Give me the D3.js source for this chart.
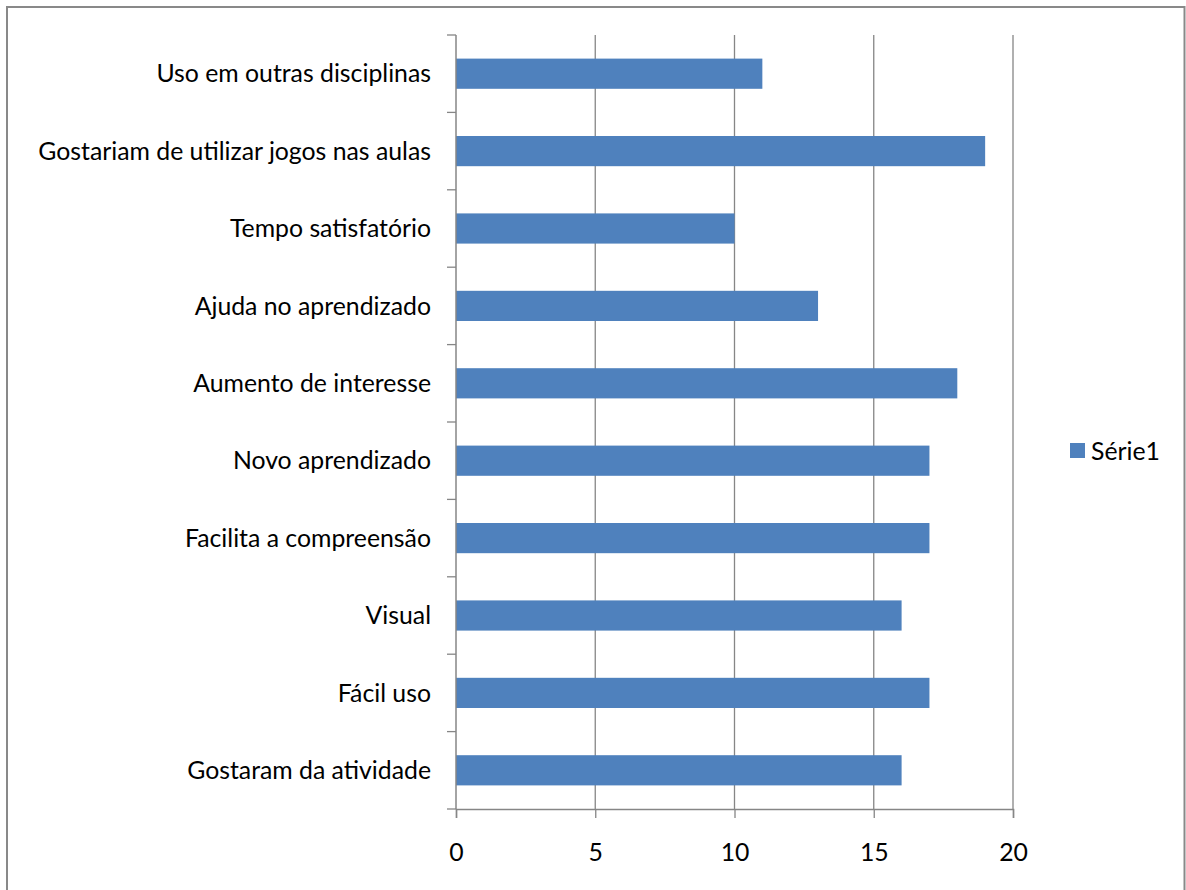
<!DOCTYPE html>
<html>
<head>
<meta charset="utf-8">
<script src="https://cdn.jsdelivr.net/npm/d3@7"></script>
<style>
  html, body { margin: 0; padding: 0; background: #fff; }
  svg { display: block; }
  text { font-family: Lato, "Open Sans", sans-serif; fill: #000; }
</style>
</head>
<body>
<svg id="chart" width="1186" height="890"></svg>
<script>
const categories = [
  "Uso em outras disciplinas",
  "Gostariam de utilizar jogos nas aulas",
  "Tempo satisfatório",
  "Ajuda no aprendizado",
  "Aumento de interesse",
  "Novo aprendizado",
  "Facilita a compreensão",
  "Visual",
  "Fácil uso",
  "Gostaram da atividade"
];
const serie1 = [11, 19, 10, 13, 18, 17, 17, 16, 17, 16];
const xTicks = [0, 5, 10, 15, 20];
const seriesName = "Série1";

const svg = d3.select("#chart");
const gridColor = "#868686";
const barColor = "#4F81BD";
const fs = 24.8;

// outer border (open at bottom, as in reference)
svg.append("path")
  .attr("d", "M7,892 L7,7 L1184.5,7 L1184.5,892")
  .attr("fill", "none").attr("stroke", "#898989").attr("stroke-width", 2);

const x = d3.scaleLinear().domain([0, 20]).range([456, 1013]);
const y = d3.scaleBand().domain(categories).range([35, 809]).paddingInner(0.61).paddingOuter(0.305);

// gridlines
svg.append("g").selectAll("line").data(xTicks.filter(d => d > 0)).join("line")
  .attr("x1", d => x(d)).attr("x2", d => x(d))
  .attr("y1", 35).attr("y2", 809)
  .attr("stroke", gridColor).attr("stroke-width", 1.3);

// bars
svg.append("g").selectAll("rect").data(serie1).join("rect")
  .attr("x", x(0))
  .attr("y", (d, i) => y(categories[i]))
  .attr("width", d => x(d) - x(0))
  .attr("height", y.bandwidth())
  .attr("fill", barColor);

// x axis
const xAxis = svg.append("g").attr("transform", "translate(0,809)")
  .call(d3.axisBottom(x).tickValues(xTicks).tickSize(9).tickPadding(25).tickFormat(d3.format("d")));
xAxis.select(".domain").attr("stroke", gridColor).attr("stroke-width", 1.5);
xAxis.selectAll(".tick line").attr("stroke", gridColor).attr("stroke-width", 1.3);
xAxis.selectAll(".tick text").attr("font-size", fs).attr("font-family", "Lato, sans-serif").attr("fill", "#000");

// y axis with category boundary ticks
const yAxisG = svg.append("g");
yAxisG.append("line").attr("x1", x(0)).attr("x2", x(0)).attr("y1", 35).attr("y2", 809)
  .attr("stroke", gridColor).attr("stroke-width", 1.5);
const boundaries = d3.range(categories.length + 1).map(i => 35 + i * (774 / categories.length));
yAxisG.selectAll("line.tk").data(boundaries).join("line").attr("class", "tk")
  .attr("x1", x(0) - 9).attr("x2", x(0)).attr("y1", d => d).attr("y2", d => d)
  .attr("stroke", gridColor).attr("stroke-width", 1.3);
yAxisG.selectAll("text").data(categories).join("text")
  .attr("x", 431)
  .attr("y", d => y(d) + y.bandwidth() / 2)
  .attr("dy", "0.35em")
  .attr("text-anchor", "end")
  .attr("font-size", fs)
  .text(d => d);

// legend
const lg = svg.append("g").attr("transform", "translate(1070,443)");
lg.append("rect").attr("width", 15).attr("height", 15).attr("fill", barColor);
lg.append("text").attr("x", 21).attr("y", 8).attr("dy", "0.35em").attr("font-size", fs).text(seriesName);
</script>
</body>
</html>
